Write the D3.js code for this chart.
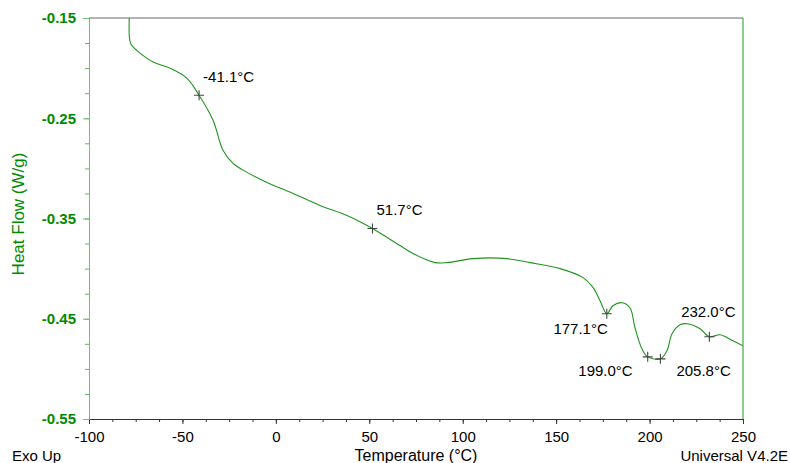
<!DOCTYPE html>
<html>
<head>
<meta charset="utf-8">
<script src="https://cdn.jsdelivr.net/npm/d3@7"></script>
<style>
  body { margin: 0; background: #fff; }
  svg { font-family: "Liberation Sans", Arial, sans-serif; }
  .ylab { fill: #008a00; font-size: 15px; font-weight: bold; }
  .xlab { fill: #000; font-size: 15px; }
  .annot { fill: #000; font-size: 15px; }
</style>
</head>
<body>
<svg width="790" height="463"></svg>
<script>
const temps = [-78.6, -78.5, -78.4, -77.6, -76.3, -72.7, -65.6, -56.7, -47.7, -41.1, -33.6, -28.3,
  -22.9, -15.4, -4.7, 9.2, 23.6, 38.1, 51.7, 66.4, 73.4, 85.2, 91.6, 105.5, 123.7,
  136.0, 152.1, 164.4, 169.8, 173.5, 177.1, 180.4, 185.2, 189.5, 192.2, 195.9,
  199.0, 205.8, 209.3, 212.0, 216.3, 220.0, 227.0, 232.0, 237.7, 244.6, 250.0];
const heatFlow = [-0.120, -0.150, -0.169, -0.176, -0.179, -0.185, -0.194, -0.200, -0.210, -0.227, -0.252, -0.282,
  -0.295, -0.304, -0.314, -0.325, -0.337, -0.347, -0.360, -0.377, -0.385, -0.394, -0.394, -0.390, -0.390,
  -0.394, -0.400, -0.409, -0.419, -0.432, -0.445, -0.437, -0.434, -0.439, -0.459, -0.480,
  -0.488, -0.490, -0.482, -0.465, -0.456, -0.455, -0.460, -0.468, -0.466, -0.472, -0.477];

const markerTemps = [-41.1, 51.7, 177.1, 199.0, 205.8, 232.0];
const markerFlows = [-0.227, -0.360, -0.445, -0.488, -0.490, -0.468];

const xTicks = [-100, -50, 0, 50, 100, 150, 200, 250];
const yTicks = [-0.55, -0.45, -0.35, -0.25, -0.15];

(function () {
  "use strict";
  const svg = d3.select("svg");
  const margin = { top: 18, right: 47, bottom: 44, left: 89 };
  const width = +svg.attr("width");
  const height = +svg.attr("height");
  const innerWidth = width - margin.left - margin.right;
  const innerHeight = height - margin.top - margin.bottom;

  // plain hyphen for negatives, like the instrument software
  const fmt = (spec) => (n) => d3.format(spec)(n).replace("\u2212", "-");

  const xScale = d3.scaleLinear().domain([-100, 250]).range([0, innerWidth]);
  const yScale = d3.scaleLinear().domain([-0.55, -0.15]).range([innerHeight, 0]);

  const g = svg.append("g")
    .attr("transform", `translate(${margin.left},${margin.top})`);

  g.append("clipPath").attr("id", "plot")
    .append("rect").attr("width", innerWidth).attr("height", innerHeight);

  // minor ticks
  const xMinor = d3.range(-100, 250.01, 12.5);
  const yMinor = d3.range(-0.55, -0.1499, 0.025);

  const xAxisG = g.append("g")
    .attr("transform", `translate(0,${innerHeight})`)
    .call(d3.axisBottom(xScale).tickValues(xMinor).tickSize(3).tickFormat(""));
  xAxisG.selectAll("line").attr("stroke", "#333");
  xAxisG.select(".domain").remove();

  const xMajor = g.append("g")
    .attr("transform", `translate(0,${innerHeight})`)
    .call(d3.axisBottom(xScale).tickValues(xTicks).tickSize(5).tickPadding(4)
      .tickFormat(fmt("d")));
  xMajor.attr("font-family", null).attr("font-size", null);
  xMajor.select(".domain").attr("stroke", "#333");
  xMajor.selectAll("line").attr("stroke", "#333");
  xMajor.selectAll("text").attr("class", "xlab").attr("dy", "0.95em");

  const yMinorG = g.append("g")
    .call(d3.axisLeft(yScale).tickValues(yMinor).tickSize(4).tickFormat(""));
  yMinorG.selectAll("line").attr("stroke", "#5cb85c");
  yMinorG.select(".domain").remove();

  const yAxisG = g.append("g")
    .call(d3.axisLeft(yScale).tickValues(yTicks).tickSize(6).tickPadding(7)
      .tickFormat(fmt(".2f")));
  yAxisG.attr("font-family", null).attr("font-size", null);
  yAxisG.select(".domain").attr("stroke", "#6cc46c");
  yAxisG.selectAll("line").attr("stroke", "#6cc46c");
  yAxisG.selectAll("text").attr("class", "ylab");

  // frame: grey top, green right
  g.append("line")
    .attr("x1", 0).attr("x2", innerWidth).attr("y1", 0).attr("y2", 0)
    .attr("stroke", "#666");
  g.append("line")
    .attr("x1", innerWidth).attr("x2", innerWidth).attr("y1", 0).attr("y2", innerHeight)
    .attr("stroke", "#1a9a1a");

  const data = temps.map((t, i) => ({ t: t, v: heatFlow[i] }));
  const line = d3.line()
    .x((d) => xScale(d.t))
    .y((d) => yScale(d.v))
    .curve(d3.curveCatmullRom.alpha(0.5));

  g.append("path")
    .datum(data)
    .attr("clip-path", "url(#plot)")
    .attr("fill", "none")
    .attr("stroke", "#1f941f")
    .attr("stroke-width", 1.1)
    .attr("d", line);

  // markers and their labels
  const annotOffsets = [
    { dx: 4, dy: -13, anchor: "start" },
    { dx: 4, dy: -14, anchor: "start" },
    { dx: 1, dy: 20, anchor: "end" },
    { dx: -15, dy: 19, anchor: "end" },
    { dx: 16, dy: 17, anchor: "start" },
    { dx: -1, dy: -20, anchor: "middle" }
  ];
  const marks = markerTemps.map((t, i) => ({ t: t, v: markerFlows[i], o: annotOffsets[i] }));

  const mg = g.selectAll(".mark").data(marks).enter().append("g")
    .attr("class", "mark")
    .attr("transform", (d) => `translate(${xScale(d.t)},${yScale(d.v)})`);
  mg.append("path")
    .attr("d", "M-5,0H5M0,-5V5")
    .attr("stroke", "#444")
    .attr("stroke-width", 1.1);
  mg.append("text")
    .attr("class", "annot")
    .attr("x", (d) => d.o.dx)
    .attr("y", (d) => d.o.dy)
    .attr("text-anchor", (d) => d.o.anchor)
    .text((d) => fmt(".1f")(d.t) + "°C");

  // titles
  svg.append("text").attr("class", "xlab")
    .attr("x", margin.left + xScale(75)).attr("y", 461)
    .attr("text-anchor", "middle")
    .style("font-size", "16px")
    .text("Temperature (°C)");
  svg.append("text").attr("class", "xlab")
    .attr("x", 12).attr("y", 461).text("Exo Up");
  svg.append("text").attr("class", "xlab")
    .attr("x", 788).attr("y", 461)
    .attr("text-anchor", "end").text("Universal V4.2E");
  svg.append("text")
    .attr("transform", "translate(24,214) rotate(-90)")
    .attr("text-anchor", "middle")
    .attr("fill", "#008a00")
    .style("font-size", "17px")
    .text("Heat Flow (W/g)");
})(d3);
</script>
</body>
</html>
